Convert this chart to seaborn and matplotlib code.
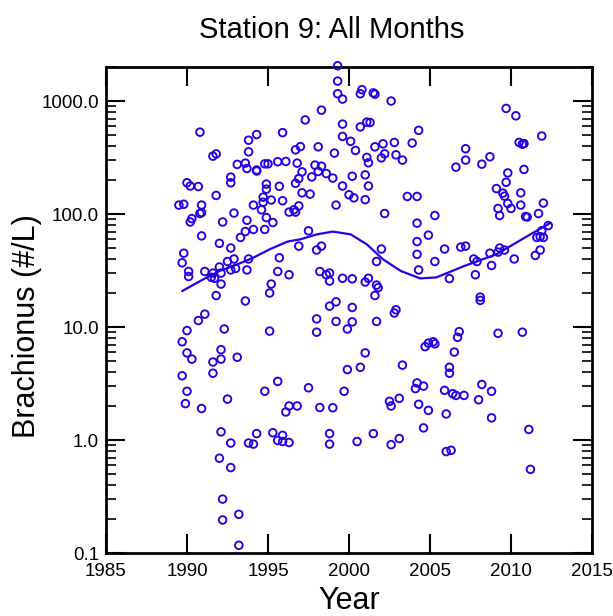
import matplotlib
matplotlib.use("Agg")
import matplotlib.pyplot as plt
import seaborn as sns
from matplotlib.ticker import FixedLocator, FormatStrFormatter, LogLocator, NullFormatter, NullLocator

# Sample year and Brachionus density (#/L)
year = [
    1990.8, 1993.8, 1994.3, 1995.9, 1993.8, 1991.6, 1991.8, 1996.7, 1997.0, 1993.1,
    1993.6, 1993.7, 1994.3, 1994.3, 1994.8, 1995.0, 1995.6, 1996.1, 1996.8, 1992.7,
    1992.7, 1990.0, 1990.2, 1990.7, 1996.7, 1996.9, 1994.9, 1994.9, 1995.7, 1991.8,
    1994.7, 1995.2, 1994.7, 1994.6, 1995.9, 1989.5, 1989.8, 1990.9, 1994.1, 1990.8,
    1990.9, 1990.3, 1990.2, 1992.9, 1992.2, 1993.7, 1994.9, 1995.3, 1996.3, 1996.6,
    1996.7, 1996.9, 1999.3, 1999.3, 1999.3, 1999.6, 2000.8, 2000.7, 2001.5, 2001.6,
    2002.6, 1998.3, 1997.3, 1999.6, 2000.7, 2001.1, 2001.3, 2004.3, 1999.6, 2000.1,
    2000.4, 1998.1, 1999.1, 2001.6, 2002.1, 2002.8, 2003.9, 2001.1, 2001.2, 2002.0,
    2002.2, 2002.9, 2003.3, 1997.1, 1997.9, 1998.3, 1998.1, 1997.7, 1998.6, 1999.0,
    2000.2, 2001.0, 1999.6, 2001.2, 1997.1, 1997.6, 2000.0, 2000.3, 2001.0, 2003.6,
    2004.2, 1999.2, 2002.2, 2004.2, 2009.7, 2010.3, 2011.9, 2010.5, 2010.7, 2010.8,
    2007.2, 2007.2, 2006.6, 2008.7, 2008.2, 2010.8, 2009.8, 2009.7, 2009.1, 2009.5,
    2009.6, 2010.6, 2009.8, 2010.0, 2010.6, 2009.2, 2009.3, 2012.0, 2010.9, 2011.0,
    2011.7, 2005.3, 2012.3, 1990.9, 1992.0, 1992.7, 1993.3, 1993.6, 1994.1, 1994.8,
    1989.8, 1989.7, 1990.1, 1990.1, 1991.1, 1991.6, 1991.5, 1991.7, 1992.0, 1992.1,
    1992.5, 1992.9, 1992.7, 1993.0, 1993.7, 1993.8, 1992.1, 1991.8, 1993.6, 1995.2,
    1995.1, 1995.7, 1995.6, 1996.3, 1996.9, 1991.1, 1990.7, 1990.0, 1992.3, 1995.1,
    1989.7, 1990.0, 1990.3, 1992.1, 1992.1, 1991.6, 1993.1, 1989.7, 1991.6, 1995.6,
    1994.8, 1990.0, 1989.9, 1990.9, 1992.5, 1996.3, 1996.1, 1996.8, 1992.1, 1992.7,
    1993.8, 1994.1, 1994.3, 1995.3, 1995.9, 1995.6, 1995.9, 1996.3, 1992.0, 1992.7,
    1992.2, 1993.2, 1992.2, 1993.2, 1997.5, 1998.0, 1998.3, 2002.0, 2001.7, 2004.2,
    2004.2, 2004.9, 2004.3, 1998.2, 1998.6, 1998.8, 1998.8, 1999.6, 2000.2, 2001.2,
    2001.0, 2001.7, 2001.8, 2001.6, 1998.8, 1999.2, 2000.2, 2002.9, 2002.8, 1998.0,
    1999.2, 2000.2, 1999.9, 2001.7, 1998.0, 2004.7, 2004.9, 2001.0, 2000.7, 1999.9,
    2003.3, 1997.5, 1999.7, 2004.2, 2004.1, 2004.6, 2005.9, 2005.3, 2006.9, 2007.2,
    2006.2, 2007.7, 2007.9, 2007.8, 2008.7, 2009.2, 2009.3, 2009.6, 2008.8, 2010.2,
    2011.5, 2011.8, 2011.6, 2011.8, 2012.0, 2011.9, 2008.1, 2008.1, 2006.8, 2006.7,
    2009.2, 2010.7, 2005.2, 2005.3, 2006.5, 2006.2, 2006.2, 2008.2, 2005.9, 2008.8,
    1998.2, 1999.0, 2002.5, 2002.6, 2003.1, 2004.3, 2004.9, 2004.6, 1998.8, 1998.8,
    2000.5, 2001.5, 2002.6, 2003.1, 2006.4, 2006.6, 2007.1, 2008.0, 2006.0, 2008.8,
    2011.1, 2006.0, 2006.3, 2011.2,
]
brachionus = [
    530, 450, 505, 525, 355, 325, 340, 370, 395, 275,
    282, 253, 240, 245, 278, 278, 290, 292, 282, 212,
    189, 189, 177, 175, 187, 206, 184, 166, 176, 146,
    141, 133, 127, 109, 131, 120, 122, 120, 120, 101,
    103, 91, 85, 102, 85, 88, 93, 84, 104, 109,
    104, 118, 2050, 1500, 1160, 1040, 1260, 1160, 1180, 1150,
    1000, 830, 680, 625, 590, 650, 645, 550, 486, 440,
    365, 393, 346, 393, 418, 430, 425, 317, 284, 314,
    341, 334, 300, 236, 271, 265, 238, 213, 228, 208,
    216, 222, 177, 177, 154, 150, 148, 139, 134, 143,
    143, 120, 101, 83, 860, 740, 490, 430, 415, 420,
    378, 300, 260, 321, 276, 248, 231, 191, 168, 153,
    144, 154, 124, 112, 120, 112, 97, 125, 95, 94,
    101, 97, 79, 64, 55, 50, 62, 70, 73, 73,
    45, 37, 31, 28, 31, 30, 27.5, 27, 34, 30,
    38, 40, 32, 33, 32, 40, 24, 19, 17, 24,
    20, 41, 31, 29, 52, 13, 11.4, 9.3, 9.6, 9.2,
    7.4, 5.9, 5.2, 6.3, 5.2, 4.9, 5.4, 3.7, 3.9, 3.3,
    2.7, 2.7, 2.1, 1.9, 2.3, 2.0, 1.77, 2.0, 1.18, 0.94,
    0.94, 0.92, 1.14, 1.16, 1.1, 0.99, 0.97, 0.95, 0.69, 0.57,
    0.30, 0.22, 0.196, 0.117, 71, 48, 52, 49, 38, 57,
    44, 65, 32, 31, 29, 30, 25.5, 27, 26.7, 27,
    25, 23.5, 22.3, 19, 15.3, 16.7, 14.9, 14.2, 13.3, 11.8,
    11.2, 11.1, 9.6, 11.2, 9.0, 6.7, 7.2, 5.9, 4.4, 4.2,
    4.6, 2.9, 2.7, 3.2, 2.85, 3.0, 49, 38, 51, 52,
    26.8, 40, 38, 29, 45, 46, 50, 48, 35, 40,
    43, 48, 62, 63, 62, 71, 18.4, 17.2, 9.1, 8.1,
    8.8, 9.0, 7.4, 7.1, 6.0, 4.4, 3.9, 3.1, 2.75, 2.7,
    1.94, 1.93, 2.2, 2.0, 2.34, 2.07, 1.83, 1.28, 1.14, 0.92,
    0.97, 1.14, 0.91, 1.03, 2.57, 2.48, 2.48, 2.27, 1.7, 1.57,
    1.24, 0.79, 0.81, 0.55,
]

# smoothed trend curve
trend_year = [1989.7, 1991.0, 1992.0, 1993.1, 1994.1, 1995.1, 1996.2, 1997.0, 1998.0, 1999.0,
              2000.1, 2001.1, 2002.1, 2003.2, 2004.4, 2005.4, 2007.1, 2009.1, 2011.2, 2012.4]
trend_value = [20.8, 26.4, 31.3, 35.8, 41.1, 48.7, 57.0, 59.7, 66.0, 69.9,
               66.1, 53.9, 39.7, 31.3, 26.9, 27.5, 34.6, 44.0, 66.1, 82.8]

x_ticks = [1985, 1990, 1995, 2000, 2005, 2010, 2015]
y_ticks = [0.1, 1, 10, 100, 1000]

sns.set_style("ticks", {"axes.edgecolor": "black", "xtick.color": "black",
                        "ytick.color": "black", "text.color": "black",
                        "axes.labelcolor": "black"})
plt.rcParams['font.family'] = ['Liberation Sans', 'DejaVu Sans']

blue = '#2400E6'

fig = plt.figure(figsize=(6.13, 6.16), dpi=100)
ax = fig.add_axes([106 / 613, 63 / 616, 486 / 613, 486 / 616])

sns.scatterplot(x=year, y=brachionus, ax=ax, marker='o', s=30, color=blue,
                facecolors='none', edgecolor=blue, linewidth=1.35,
                clip_on=False, zorder=3)
sns.lineplot(x=trend_year, y=trend_value, ax=ax, color=blue, linewidth=1.6,
             sort=False, estimator=None, zorder=2)

ax.set_yscale('log')
ax.set_xlim(1985, 2015)
ax.set_ylim(0.1, 2000)

ax.xaxis.set_major_locator(FixedLocator(x_ticks))
ax.xaxis.set_minor_locator(NullLocator())
ax.yaxis.set_major_locator(FixedLocator(y_ticks))
ax.yaxis.set_major_formatter(FormatStrFormatter('%.1f'))
ax.yaxis.set_minor_locator(LogLocator(base=10, subs=range(2, 10)))
ax.yaxis.set_minor_formatter(NullFormatter())

ax.tick_params(which='major', direction='in', top=True, right=True,
               length=14, width=1.5, labelsize=13.5)
ax.tick_params(which='minor', direction='in', top=True, right=True,
               length=7, width=1.2)
ax.tick_params(axis='x', pad=7)
ax.tick_params(axis='y', pad=5)
for s in ax.spines.values():
    s.set_linewidth(2)
    s.set_color('black')

ax.set_xlabel('')
ax.set_ylabel('')
fig.text(332 / 613, 1 - 30 / 616, 'Station 9: All Months', ha='center', va='center', fontsize=21)
fig.text(27 / 613, 1 - 326 / 616, 'Brachionus (#/L)', ha='center', va='center',
         rotation=90, fontsize=22)
fig.text(349 / 613, 1 - 601 / 616, 'Year', ha='center', va='center', fontsize=22)

fig.savefig('out.png', dpi=100)
